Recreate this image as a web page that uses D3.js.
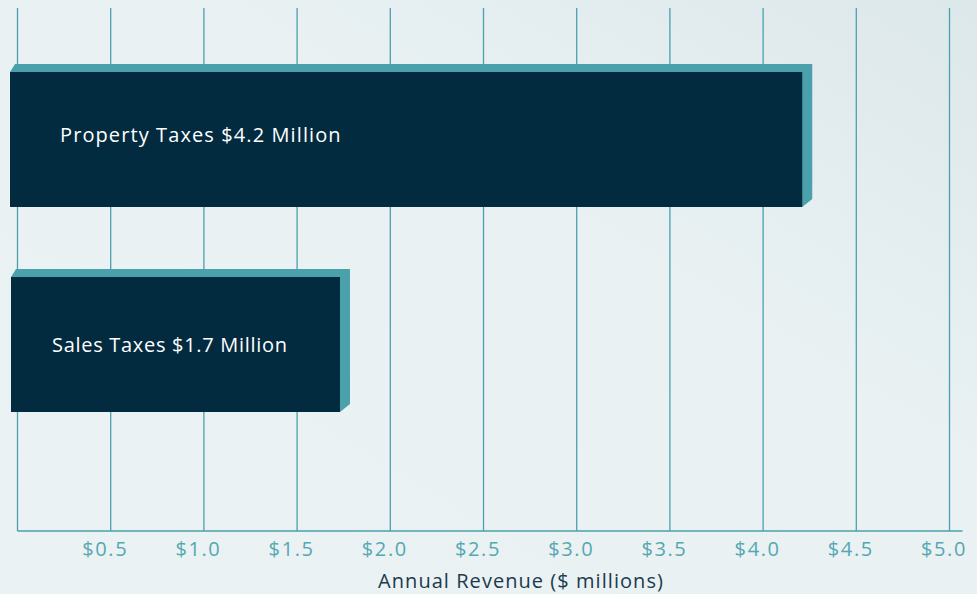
<!DOCTYPE html>
<html>
<head>
<meta charset="utf-8">
<script src="https://cdn.jsdelivr.net/npm/d3@7"></script>
<style>
  html, body { margin: 0; padding: 0; }
  body { width: 977px; height: 594px; overflow: hidden; }
  svg { display: block; font-family: "Open Sans", "Noto Sans", sans-serif; }
</style>
</head>
<body>
<svg width="977" height="594"></svg>
<script>
// data
const categories = ['Property Taxes', 'Sales Taxes'];
const values = [4.21, 1.73];
const labels = ['Property Taxes $4.2 Million', 'Sales Taxes $1.7 Million'];
const tickValues = [0.5, 1.0, 1.5, 2.0, 2.5, 3.0, 3.5, 4.0, 4.5, 5.0];
const gridValues = [0, 0.5, 1.0, 1.5, 2.0, 2.5, 3.0, 3.5, 4.0, 4.5, 5.0];

const navy = '#032b3f';
const teal = '#4aa1ab';

const svg = d3.select('svg');
const W = 977, H = 594;

const defs = svg.append('defs');
const bg = defs.append('linearGradient').attr('id', 'bg')
  .attr('x1', '0%').attr('y1', '100%').attr('x2', '100%').attr('y2', '0%');
bg.append('stop').attr('offset', '0%').attr('stop-color', '#eaf2f4');
bg.append('stop').attr('offset', '60%').attr('stop-color', '#e9f1f3');
bg.append('stop').attr('offset', '100%').attr('stop-color', '#dde8ea');
svg.append('rect').attr('width', W).attr('height', H).attr('fill', 'url(#bg)');

const x = d3.scaleLinear().domain([0, 5]).range([17.5, 949.5]);
const y = d3.scaleBand().domain(categories).range([72, 412]).paddingInner(0.3415).paddingOuter(0);

const gridTop = 8, gridBottom = 531;

// gridlines
svg.append('g').selectAll('line').data(gridValues).join('line')
  .attr('x1', d => x(d)).attr('x2', d => x(d))
  .attr('y1', gridTop).attr('y2', gridBottom)
  .attr('stroke', teal).attr('stroke-width', 1.3);

// axis
const axis = svg.append('g').attr('transform', `translate(0,${gridBottom})`)
  .call(d3.axisBottom(x).tickValues(tickValues).tickSize(0).tickPadding(9)
    .tickFormat(d => '$' + d3.format('.1f')(d)));
axis.select('.domain').attr('d', `M${x(0)},0H${x(5) + 13}`)
  .attr('stroke', teal).attr('stroke-width', 1.6);
axis.selectAll('text').attr('fill', '#55a8b2').attr('font-size', 20)
  .attr('letter-spacing', 1.6).attr('dx', -6)
  .attr('font-family', '"Open Sans", sans-serif').attr('dy', '0.78em');

svg.append('text').attr('x', 521).attr('y', 588).attr('text-anchor', 'middle')
  .attr('fill', '#1b3a4c').attr('font-size', 20).attr('letter-spacing', 1.05)
  .text('Annual Revenue ($ millions)');

// 3d bars
const dx = 10, dy = 8;
const labelShift = [-4.5, 0];
const labelSpacing = [1.1, 0.7];
const bars = svg.append('g').selectAll('g').data(values).join('g');
bars.each(function (v, i) {
  const g = d3.select(this);
  const x0 = x(0) - 7.5 + (i === 1 ? 1 : 0);
  const x1 = x(v);
  const y0 = y(categories[i]);
  const y1 = y0 + y.bandwidth();
  g.append('path')
    .attr('d', `M${x0},${y0}L${x0 + dx / 2},${y0 - dy}L${x1 + dx},${y0 - dy}L${x1 + dx},${y1 - dy}L${x1},${y1}Z`)
    .attr('fill', teal);
  g.append('rect').attr('x', x0).attr('y', y0)
    .attr('width', x1 - x0).attr('height', y1 - y0).attr('fill', navy);
  g.append('text')
    .attr('x', x0 + (i === 0 ? 50 : 41))
    .attr('y', (y0 + y1) / 2 + labelShift[i]).attr('dy', '0.35em')
    .attr('fill', '#ffffff').attr('font-size', 20).attr('letter-spacing', labelSpacing[i])
    .text(labels[i]);
});
</script>
</body>
</html>
